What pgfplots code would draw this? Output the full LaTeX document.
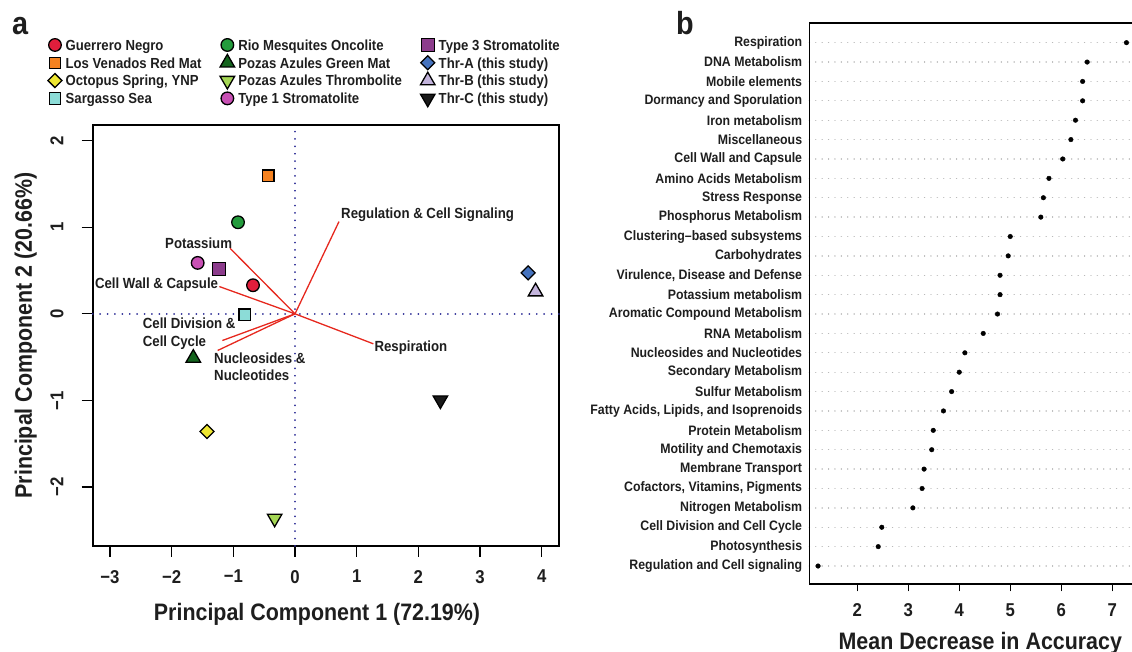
\documentclass[border=0pt]{standalone}
\usepackage{fontspec}
\setmainfont{Liberation Sans}[FakeStretch=0.9]
\usepackage{pgfplots}
\pgfplotsset{compat=1.18}
\definecolor{cGN}{RGB}{225,30,60}
\definecolor{cLV}{RGB}{245,130,32}
\definecolor{cOS}{RGB}{238,230,50}
\definecolor{cSS}{RGB}{140,220,215}
\definecolor{cRM}{RGB}{35,155,60}
\definecolor{cPG}{RGB}{20,100,30}
\definecolor{cPT}{RGB}{165,215,85}
\definecolor{cT1}{RGB}{200,80,180}
\definecolor{cT3}{RGB}{140,60,140}
\definecolor{cTA}{RGB}{70,115,190}
\definecolor{cTB}{RGB}{195,180,220}
\definecolor{cTC}{RGB}{25,25,25}
\definecolor{txt}{RGB}{30,30,30}
\definecolor{vred}{RGB}{230,40,30}
\definecolor{dblue}{RGB}{45,45,150}
\pgfplotsset{
  pt/.style={only marks, mark options={draw=black, line width=1.3pt, solid, fill=#1}},
  ptr/.style 2 args={only marks, mark options={draw=black, line width=1.3pt, solid, fill=#1, rotate=#2}},
}
\newcommand{\fs}[1]{\bfseries\fontsize{#1}{#1}\selectfont}
\begin{document}
\begin{tikzpicture}
\path[use as bounding box] (0,0) rectangle (1132pt,652pt);
\node[anchor=base west, font=\fs{32}, text=txt, inner sep=0pt] at (12pt,617pt) {a};
\node[anchor=base west, font=\fs{32}, text=txt, inner sep=0pt] at (676pt,617pt) {b};
% ---------------- Panel a ----------------
\begin{axis}[
  at={(92.7pt,106pt)}, anchor=south west,
  scale only axis, width=466.3pt, height=421pt,
  xmin=-3.28, xmax=4.28, ymin=-2.68, ymax=2.18,
  clip=false,
  xtick={-3,-2,-1,0,1,2,3,4}, ytick={-2,-1,0,1,2},
  xticklabels={−3,−2,−1,0,1,2,3,4}, yticklabels={−2,−1,0,1,2},
  tick align=outside, xtick pos=left, ytick pos=left,
  major tick length=11pt,
  axis line style={line width=1.6pt, black},
  tick style={line width=1.3pt, black},
  xticklabel style={font=\fs{18.6}, text=txt, inner sep=0pt, anchor=north},
  xticklabel shift=13pt,
  yticklabel style={font=\fs{18.6}, text=txt, inner sep=0pt, rotate=90, anchor=south},
  yticklabel shift=18pt,
  xlabel={Principal Component 1 (72.19\%)},
  ylabel={Principal Component 2 (20.66\%)},
  xlabel style={font=\fs{23.8}, text=txt, inner sep=0pt, at={(axis description cs:0.481,-0.1758)}, anchor=base},
  ylabel style={font=\fs{23.8}, text=txt, inner sep=0pt, at={(axis description cs:-0.1302,0.5)}, anchor=base},
  legend columns=4, transpose legend,
  legend style={at={(axis description cs:-0.0959,1.2112)}, anchor=north west,
    draw=none, fill=none, inner sep=0pt, outer sep=0pt, row sep=0pt,
    font=\fs{14.6}, text=txt,
    nodes={inner sep=0pt, text height=10.5pt, text depth=0pt},
    /tikz/every odd column/.append style={column sep=3.7pt},
    /tikz/every even column/.append style={column sep=18.6pt}},
  legend cell align=left,
  legend image code/.code={\path[draw=none,fill=none] (0pt,-8.9pt) rectangle (14pt,8.9pt);
     \draw[mark repeat=2,mark phase=2,#1] plot coordinates {(0pt,0pt) (7pt,0pt) (14pt,0pt)};},
]
% reference lines
\addplot[forget plot, dblue, line width=1.8pt, line cap=round, dash pattern=on 0.1pt off 7.3pt] coordinates {(-3.28,0) (4.28,0)};
\addplot[forget plot, dblue, line width=1.8pt, line cap=round, dash pattern=on 0.1pt off 7.3pt] coordinates {(0,-2.68) (0,2.18)};
% loading vectors
\addplot[forget plot, vred, line width=1.3pt] coordinates {(0,0) (0.713,1.065)};
\addplot[forget plot, vred, line width=1.3pt] coordinates {(0,0) (-1.054,0.757)};
\addplot[forget plot, vred, line width=1.3pt] coordinates {(0,0) (-1.227,0.315)};
\addplot[forget plot, vred, line width=1.3pt] coordinates {(0,0) (-1.178,-0.308)};
\addplot[forget plot, vred, line width=1.3pt] coordinates {(0,0) (-1.254,-0.423)};
\addplot[forget plot, vred, line width=1.3pt] coordinates {(0,0) (1.27,-0.346)};
% samples
\addplot[pt=cGN, mark=*, mark size=6.3pt] coordinates {(-0.681,0.33)};
\addlegendentry{Guerrero Negro}
\addplot[pt=cLV, mark=square*, mark size=5.6pt] coordinates {(-0.433,1.595)};
\addlegendentry{Los Venados Red Mat}
\addplot[ptr={cOS}{45}, mark=square*, mark size=4.95pt] coordinates {(-1.427,-1.358)};
\addlegendentry{Octopus Spring, YNP}
\addplot[pt=cSS, mark=square*, mark size=5.8pt] coordinates {(-0.816,-0.012)};
\addlegendentry{Sargasso Sea}
\addplot[pt=cRM, mark=*, mark size=6.3pt] coordinates {(-0.924,1.057)};
\addlegendentry{Rio Mesquites Oncolite}
\addplot[pt=cPG, mark=triangle*, mark size=8.4pt] coordinates {(-1.649,-0.51)};
\addlegendentry{Pozas Azules Green Mat}
\addplot[ptr={cPT}{180}, mark=triangle*, mark size=8.4pt] coordinates {(-0.33,-2.361)};
\addlegendentry{Pozas Azules Thrombolite}
\addplot[pt=cT1, mark=*, mark size=6.3pt] coordinates {(-1.578,0.588)};
\addlegendentry{Type 1 Stromatolite}
\addplot[pt=cT3, mark=square*, mark size=6.6pt] coordinates {(-1.232,0.515)};
\addlegendentry{Type 3 Stromatolite}
\addplot[ptr={cTA}{45}, mark=square*, mark size=4.95pt] coordinates {(3.78,0.473)};
\addlegendentry{Thr-A (this study)}
\addplot[pt=cTB, mark=triangle*, mark size=8.4pt] coordinates {(3.90,0.256)};
\addlegendentry{Thr-B (this study)}
\addplot[ptr={cTC}{180}, mark=triangle*, mark size=8.4pt] coordinates {(2.357,-0.996)};
\addlegendentry{Thr-C (this study)}
% vector labels
\node[anchor=base west, font=\fs{14.7}, text=txt, inner sep=0pt] at (axis cs:0.746,1.096) {Regulation \& Cell Signaling};
\node[anchor=base west, font=\fs{14.7}, text=txt, inner sep=0pt] at (axis cs:-2.108,0.75) {Potassium};
\node[anchor=base east, font=\fs{14.7}, text=txt, inner sep=0pt] at (axis cs:-1.244,0.288) {Cell Wall \& Capsule};
\node[anchor=base west, font=\fs{14.7}, text=txt, inner sep=0pt] at (axis cs:-2.470,-0.166) {Cell Division \&};
\node[anchor=base west, font=\fs{14.7}, text=txt, inner sep=0pt] at (axis cs:-2.470,-0.377) {Cell Cycle};
\node[anchor=base west, font=\fs{14.7}, text=txt, inner sep=0pt] at (axis cs:-1.313,-0.577) {Nucleosides \&};
\node[anchor=base west, font=\fs{14.7}, text=txt, inner sep=0pt] at (axis cs:-1.313,-0.769) {Nucleotides};
\node[anchor=base west, font=\fs{14.7}, text=txt, inner sep=0pt] at (axis cs:1.286,-0.435) {Respiration};
\end{axis}
% ---------------- Panel b ----------------
\begin{axis}[
  at={(809.3pt,67.7pt)}, anchor=south west,
  scale only axis, width=322.7pt, height=561pt,
  xmin=1.058, xmax=7.389, ymin=0.057, ymax=29,
  clip=false,
  axis x line*=box, axis y line*=left,
  axis line style={line width=1.6pt, black},
  xtick={2,3,4,5,6,7}, xticklabels={2,3,4,5,6,7},
  xtick pos=left, tick align=outside,
  major tick length=7pt,
  xtick style={line width=1.3pt, black},
  xticklabel style={font=\fs{18.6}, text=txt, inner sep=0pt, anchor=north},
  xticklabel shift=12.2pt,
  ytick={1,...,28},
  ytick style={draw=none},
  yticklabel style={font=\fs{13.7}, text=txt, inner sep=0pt, anchor=east},
  yticklabels={Regulation and Cell signaling, Photosynthesis, Cell Division and Cell Cycle,
    Nitrogen Metabolism, {Cofactors, Vitamins, Pigments}, Membrane Transport,
    Motility and Chemotaxis, Protein Metabolism, {Fatty Acids, Lipids, and Isoprenoids},
    Sulfur Metabolism, Secondary Metabolism, Nucleosides and Nucleotides, RNA Metabolism,
    Aromatic Compound Metabolism, Potassium metabolism, {Virulence, Disease and Defense},
    Carbohydrates, Clustering–based subsystems, Phosphorus Metabolism, Stress Response,
    Amino Acids Metabolism, Cell Wall and Capsule, Miscellaneous, Iron metabolism,
    Dormancy and Sporulation, Mobile elements, DNA Metabolism, Respiration},
  ymajorgrids,
  y grid style={gray!55, line width=1.3pt, line cap=round, dash pattern=on 0.1pt off 6.3pt},
  xlabel={Mean Decrease in Accuracy},
  xlabel style={font=\fs{23.8}, text=txt, inner sep=0pt, at={(axis description cs:0.530,-0.117)}, anchor=base},
]
\addplot[only marks, mark=*, mark size=2.3pt, black] coordinates {
(1.23,1) (2.41,2) (2.48,3) (3.09,4) (3.27,5) (3.31,6) (3.46,7) (3.49,8) (3.69,9)
(3.85,10) (4.00,11) (4.11,12) (4.47,13) (4.75,14) (4.80,15) (4.80,16) (4.96,17)
(5.00,18) (5.60,19) (5.65,20) (5.76,21) (6.03,22) (6.19,23) (6.28,24) (6.42,25)
(6.42,26) (6.51,27) (7.28,28)};
\end{axis}
\end{tikzpicture}
\end{document}
